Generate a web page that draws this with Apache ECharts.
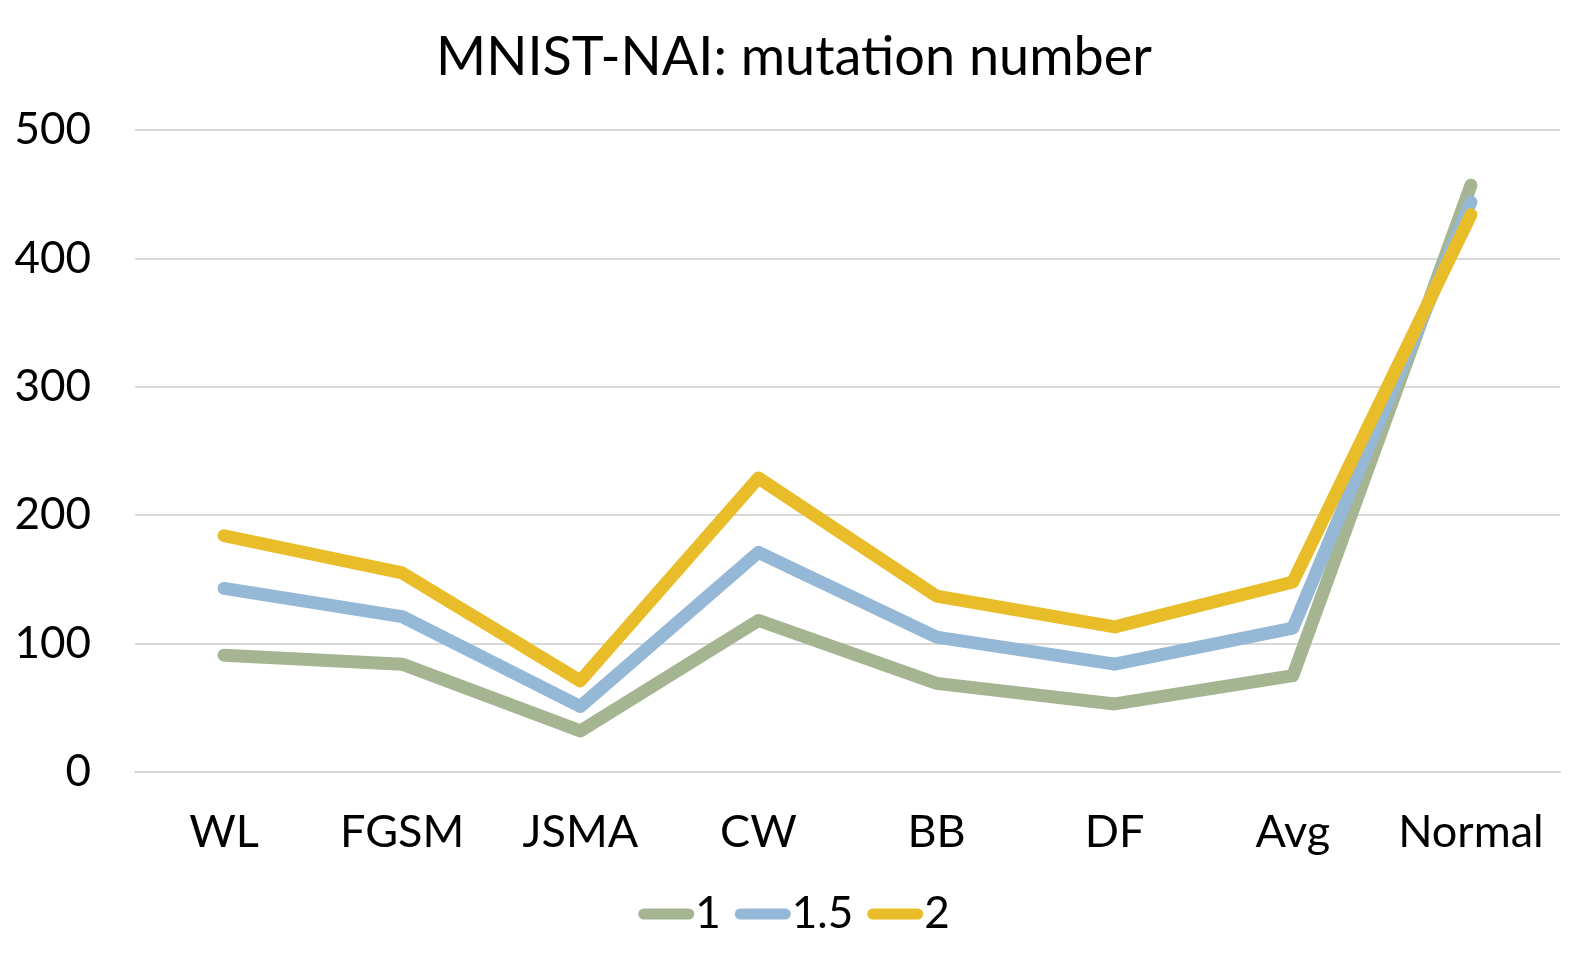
<!DOCTYPE html>
<html>
<head>
<meta charset="utf-8">
<title>MNIST-NAI: mutation number</title>
<script src="https://cdn.jsdelivr.net/npm/echarts@6/dist/echarts.min.js"></script>
<style>
    html, body { margin: 0; padding: 0; background: #fff; }
    #main { width: 1588px; height: 967px; }
</style>
</head>
<body>
<div id="main"></div>
<script type="text/javascript">
    var categories = ['WL', 'FGSM', 'JSMA', 'CW', 'BB', 'DF', 'Avg', 'Normal'];
    var seriesNames = ['1', '1.5', '2'];
    var values1 = [91, 84, 32, 118, 69, 53, 75, 457];
    var values15 = [143, 121, 51, 171, 105, 84, 112, 444];
    var values2 = [184, 155, 71, 229, 137, 113, 148, 434];
    var yTicks = [0, 100, 200, 300, 400, 500];

    var colors = ['#A5B592', '#95B8D7', '#E9BD29'];
    var font = 'Lato, "Open Sans", sans-serif';
    // pill shaped legend marker
    var pill = 'path://M6,0 L54,0 A6,6 0 0 1 54,12 L6,12 A6,6 0 0 1 6,0 Z';

    var myChart = echarts.init(document.getElementById('main'));

    function line(name, data, color) {
        return {
            name: name,
            type: 'line',
            data: data,
            symbol: 'none',
            lineStyle: { color: color, width: 13, cap: 'round', join: 'round' },
            itemStyle: { color: color }
        };
    }

    myChart.setOption({
        animation: false,
        title: {
            text: 'MNIST-NAI: mutation number',
            left: 'center',
            top: 26,
            textStyle: { fontFamily: font, fontSize: 54, fontWeight: 'normal', color: '#000' }
        },
        legend: {
            bottom: 26,
            left: 'center',
            icon: pill,
            itemWidth: 56,
            itemHeight: 13,
            itemGap: 14,
            textStyle: { fontFamily: font, fontSize: 44, color: '#000', padding: [0, 0, 0, -4] },
            data: seriesNames
        },
        grid: { left: 135, right: 28, top: 130, bottom: 195, containLabel: false },
        xAxis: {
            type: 'category',
            data: categories,
            boundaryGap: true,
            axisLine: { show: true, lineStyle: { color: '#D9D9D9', width: 2 } },
            axisTick: { show: false },
            axisLabel: { fontFamily: font, fontSize: 45, color: '#000', margin: 38, interval: 0, hideOverlap: false }
        },
        yAxis: {
            type: 'value',
            min: yTicks[0],
            max: yTicks[yTicks.length - 1],
            interval: 100,
            axisLine: { show: false },
            axisTick: { show: false },
            axisLabel: { fontFamily: font, fontSize: 44, color: '#000', margin: 44 },
            splitLine: { lineStyle: { color: '#D9D9D9', width: 2 } }
        },
        series: [
            line(seriesNames[0], values1, colors[0]),
            line(seriesNames[1], values15, colors[1]),
            line(seriesNames[2], values2, colors[2])
        ]
    });
</script>
</body>
</html>
